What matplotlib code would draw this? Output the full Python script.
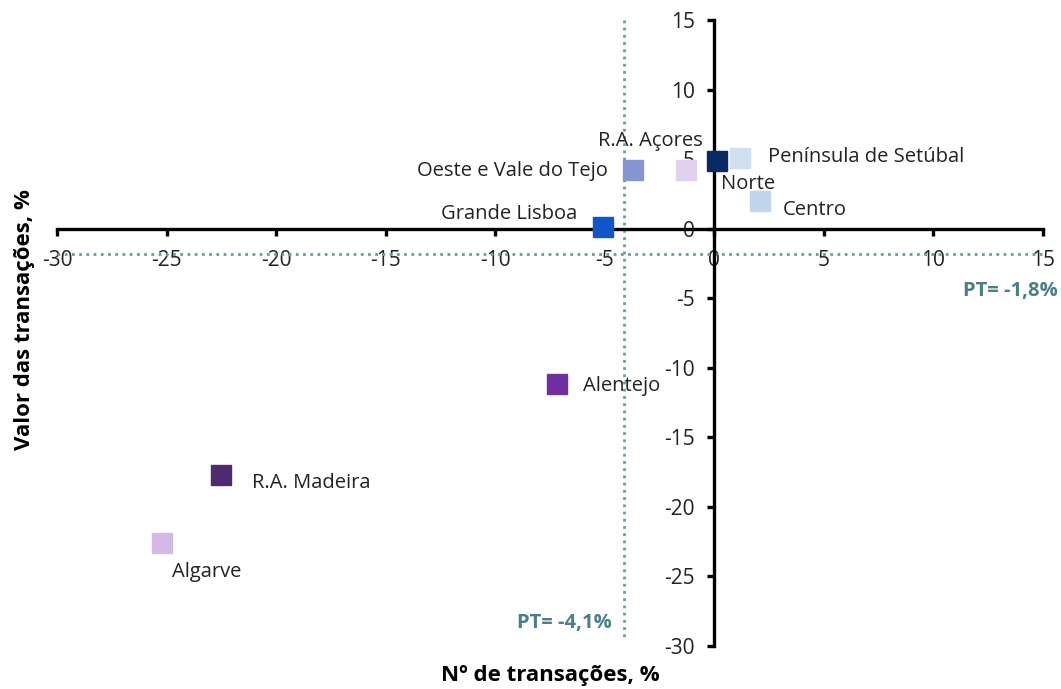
import numpy as np
import matplotlib.pyplot as plt

plt.rcParams['font.family'] = ['Open Sans', 'DejaVu Sans']
plt.rcParams['axes.unicode_minus'] = False

regioes = ['R.A. Açores', 'Península de Setúbal', 'Norte', 'Oeste e Vale do Tejo',
           'Centro', 'Grande Lisboa', 'Alentejo', 'R.A. Madeira', 'Algarve']
n_trans = [0.1, 1.15, -1.3, -3.7, 2.1, -5.1, -7.2, -22.5, -25.2]
valor_trans = [4.9, 5.1, 4.2, 4.2, 2.0, 0.1, -11.2, -17.7, -22.6]
cores = ['#0A2A66', '#D0E0F0', '#E2D0EE', '#8595D2', '#C0D6EC',
         '#1155C8', '#7030A0', '#4E2A6E', '#D4B8E6']
# label offsets in pixels (dx, dy, ha)
offsets = [(-14, 20, 'right'), (28, 1, 'left'), (35, -14, 'left'), (-25, -1, 'right'),
           (22, -9, 'left'), (-25, 13, 'right'), (26, -2, 'left'), (31, -8, 'left'),
           (10, -29, 'left')]

pt_x = -4.1
pt_y = -1.8

fig = plt.figure(figsize=(10.61, 6.89), dpi=100)
ax = fig.add_axes([57/1061, 1-646/689, 986/1061, 626/689])

ax.set_xlim(-30, 15)
ax.set_ylim(-30, 15)

teal = '#6A9BA3'
ax.plot([pt_x, pt_x], [15, -29.6], ls=(0, (1, 1.6)), color=teal, lw=2, clip_on=False)
ax.plot([-30, 15], [pt_y, pt_y], ls=(0, (1, 1.6)), color=teal, lw=2, clip_on=False)

for x, y, c in zip(n_trans, valor_trans, cores):
    ax.plot(x, y, marker='s', ms=14, color=c, mec=c, ls='none', zorder=5, clip_on=False)

for nome, x, y, (dx, dy, ha) in zip(regioes, n_trans, valor_trans, offsets):
    ax.annotate(nome, (x, y), xytext=(dx*0.72, dy*0.72), textcoords='offset points',
                ha=ha, va='center', fontsize=14.5, color='#222222')

ax.spines['left'].set_position(('data', 0))
ax.spines['bottom'].set_position(('data', 0))
ax.spines['right'].set_visible(False)
ax.spines['top'].set_visible(False)
for s in ['left', 'bottom']:
    ax.spines[s].set_linewidth(2.4)
    ax.spines[s].set_color('black')

ax.set_xticks(np.arange(-30, 16, 5))
ax.set_yticks(np.arange(-30, 16, 5))
ax.tick_params(axis='x', direction='out', length=5, width=2.4, pad=10, labelsize=15, labelcolor='#222222')
ax.tick_params(axis='y', direction='out', length=5, width=2.4, pad=9, labelsize=15, labelcolor='#222222')

ax.text(1058/1061, 1-291/689, 'PT= -1,8%', transform=fig.transFigure, ha='right', va='center',
        fontsize=14.5, color='#4A7F88', fontweight='bold')
ax.text(612/1061, 1-623/689, 'PT= -4,1%', transform=fig.transFigure, ha='right', va='center',
        fontsize=14.5, color='#4A7F88', fontweight='bold')

fig.text(550/1061, 1-675/689, 'Nº de transações, %', ha='center', va='center',
         fontsize=16, fontweight='bold')
fig.text(25/1061, 1-320/689, 'Valor das transações, %', ha='center', va='center',
         rotation=90, fontsize=16, fontweight='bold')

fig.savefig('out.png', dpi=100)
